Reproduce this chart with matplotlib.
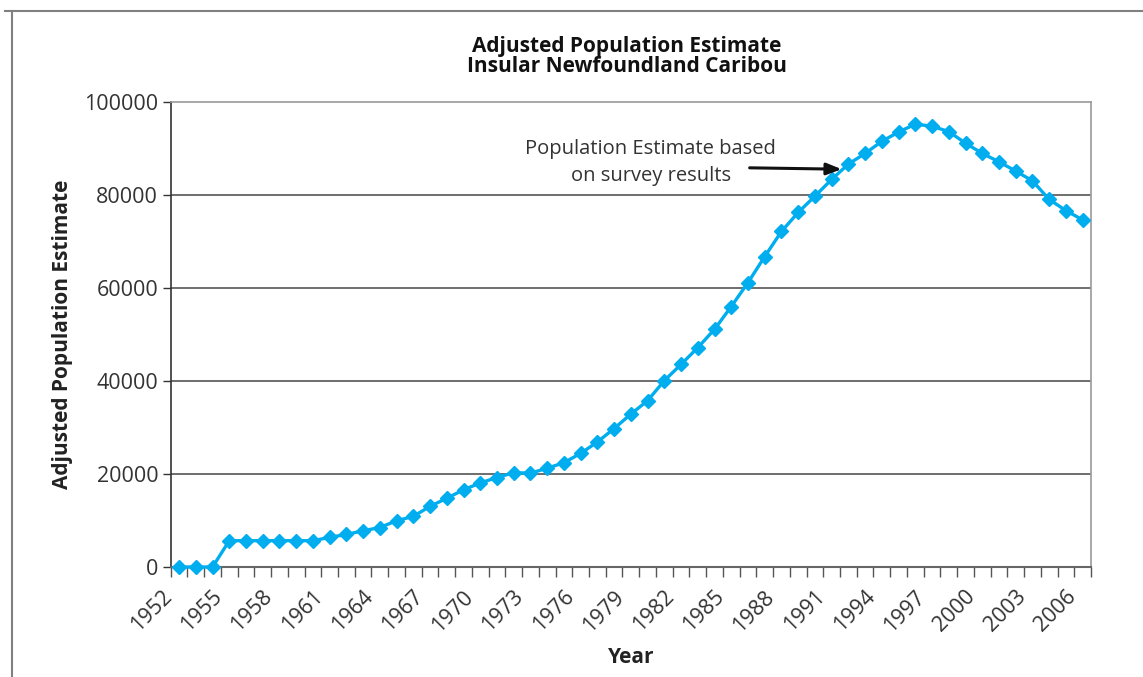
import matplotlib
matplotlib.use("Agg")
import matplotlib.pyplot as plt
import matplotlib.transforms as mtransforms
from matplotlib.lines import Line2D
import numpy as np

years = list(range(1952, 2007))
population = [0, 0, 0, 5660, 5660, 5660, 5660, 5660, 5660, 6380,
              7000, 7800, 8500, 9950, 10900, 13050, 14800, 16600, 18100, 19250,
              20300, 20200, 21250, 22450, 24450, 26900, 29800, 32900, 35800, 40100,
              43600, 47200, 51150, 56050, 61200, 66800, 72200, 76300, 79800, 83400,
              86700, 89000, 91600, 93600, 95300, 94850, 93700, 91200, 89000, 87200,
              85200, 83100, 79100, 76700, 74700]
yticks = [0, 20000, 40000, 60000, 80000, 100000]
title = "Adjusted Population Estimate\nInsular Newfoundland Caribou"
ylabel = "Adjusted Population Estimate"
xlabel = "Year"
note = "Population Estimate based\non survey results"

plt.rcParams['font.family'] = ['Open Sans', 'DejaVu Sans']

fig = plt.figure(figsize=(11.43, 6.77), dpi=100)
ax = fig.add_axes([170.7/1143, 1-567/677, (1091-170.7)/1143, (567-102.3)/677])

x = np.arange(len(years))
ax.plot(x, population, color='#00AEEF', lw=2.4, marker='D', ms=7.5,
        markeredgecolor='#00AEEF', zorder=3, clip_on=False)

ax.set_xlim(-0.5, len(years) - 0.5)
ax.set_ylim(0, 100000)

# y axis
ax.set_yticks(yticks)
ax.set_yticklabels([str(v) for v in yticks], fontsize=15.5, color='#333333')
ax.tick_params(axis='y', direction='out', length=6, width=1, color='#333333', pad=3)
for v in yticks[1:-1]:
    ax.axhline(v, color='#555555', lw=1.2, zorder=1)

# x axis: labels every 3 years, tick marks at category boundaries
lab_idx = list(range(0, len(years), 3))
ax.set_xticks(lab_idx)
ax.set_xticklabels([str(years[i]) for i in lab_idx], fontsize=15.5, color='#333333',
                   rotation=45, ha='right', va='center', rotation_mode='anchor')
ax.set_xticks(np.arange(-0.5, len(years), 1), minor=True)
ax.tick_params(axis='x', which='major', length=0, pad=20)
ax.tick_params(axis='x', which='minor', direction='out', length=7, width=1, color='#555555')
offset = mtransforms.ScaledTranslation(-10/100, 1/100, fig.dpi_scale_trans)
for lab in ax.get_xticklabels():
    lab.set_transform(lab.get_transform() + offset)

for s in ['top', 'right']:
    ax.spines[s].set_color('#9a9a9a')
    ax.spines[s].set_linewidth(1.2)
ax.spines['left'].set_color('#333333')
ax.spines['bottom'].set_color('#666666')
ax.spines['left'].set_linewidth(1.2)
ax.spines['bottom'].set_linewidth(1.5)

ax.set_ylabel(ylabel, fontsize=15, fontweight='bold', color='#222222', labelpad=8)
ax.set_xlabel(xlabel, fontsize=15, fontweight='bold', color='#222222', labelpad=8)
fig.text(627/1143, 1-56.5/677, title, ha='center', va='center', fontsize=15,
         fontweight='bold', color='#111111', linespacing=0.95)

ax.text(28.2, 87000, note, ha='center', va='center', fontsize=14.5, color='#333333',
        linespacing=1.45)
ax.annotate('', xy=(39.6, 85600), xytext=(34.1, 85900),
            arrowprops=dict(arrowstyle='-|>,head_length=0.9,head_width=0.35',
                            color='#111111', lw=2.2, shrinkA=0, shrinkB=0))

# outer frame lines
fig.add_artist(Line2D([5/1143, 1], [1-11/677, 1-11/677], color='#808080', lw=1.5,
                      transform=fig.transFigure))
fig.add_artist(Line2D([11.7/1143, 11.7/1143], [0, 1-11/677], color='#808080', lw=1.5,
                      transform=fig.transFigure))

fig.savefig('out.png', dpi=100, facecolor='white')
